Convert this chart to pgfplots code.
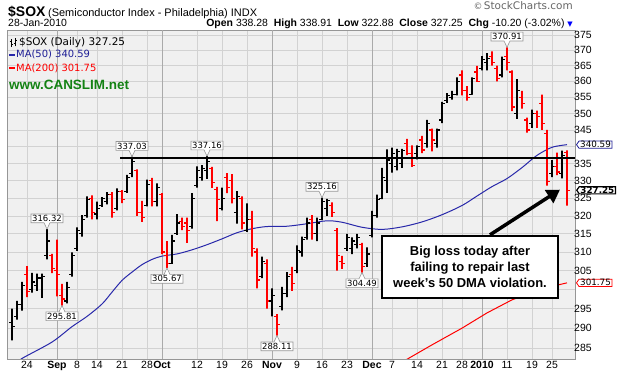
\documentclass[border=0pt]{standalone}
\usepackage{fontspec}
\setmainfont{Liberation Sans}
\newfontfamily\dejavu{DejaVu Sans}
\usepackage{pgfplots}
\usepackage{pgfplotstable}
\pgfplotsset{compat=1.18}
\usetikzlibrary{shapes.callouts,shapes.symbols,arrows.meta}

\definecolor{plotbg}{RGB}{240,240,240}
\definecolor{gridc}{RGB}{210,210,210}
\definecolor{monthc}{RGB}{170,170,170}
\definecolor{frame}{RGB}{150,150,150}
\definecolor{maBlue}{RGB}{40,40,170}
\definecolor{barred}{RGB}{255,0,0}
\definecolor{webgreen}{RGB}{20,130,20}
\definecolor{tagblue}{RGB}{30,30,150}
\definecolor{lblgray}{RGB}{150,150,150}

% OHLC bars: d = trading-day index (0 = 19-Aug-2009), r = 1 red bar, 0 black bar
\pgfplotstableread{
d O H L C r
0 291.5 295.0 286.9 290.5 0
1 293.0 297.0 292.2 296.0 0
2 296.0 302.0 294.5 301.0 0
3 304.0 306.2 298.0 299.5 1
4 300.0 304.4 299.2 302.0 0
5 301.0 304.2 299.6 303.0 0
6 303.0 304.2 297.8 303.5 0
7 309.0 316.32 308.0 313.0 0
8 309.0 309.5 304.3 305.5 1
9 305.0 313.4 298.2 304.0 1
10 298.5 301.5 295.81 297.5 1
11 297.0 302.0 296.4 300.5 0
12 304.0 309.9 303.4 309.0 0
13 311.0 316.8 310.3 316.0 0
14 315.0 320.2 314.2 319.0 0
15 320.0 325.5 319.5 324.5 0
16 325.0 325.8 319.0 321.0 1
17 320.5 324.0 319.0 322.0 0
18 323.0 325.3 322.5 325.0 0
19 324.0 326.7 323.2 326.0 0
20 326.0 326.7 319.5 321.0 1
21 322.0 327.8 321.5 327.0 0
22 327.0 327.3 323.6 324.5 1
23 327.0 331.7 326.5 331.0 0
24 332.0 337.03 331.0 335.5 0
25 333.0 333.3 320.0 321.0 1
26 321.0 324.2 318.3 319.5 1
27 323.0 330.3 322.7 329.0 0
28 330.0 330.8 322.7 324.0 1
29 324.0 329.2 322.7 328.0 0
30 326.0 326.4 309.4 310.0 1
31 309.0 313.0 305.67 307.0 1
32 307.0 314.7 306.8 313.0 0
33 315.0 320.5 314.7 318.0 0
34 318.5 319.5 316.0 317.0 1
35 318.0 319.5 312.5 316.0 1
36 317.0 326.4 316.4 325.0 0
37 328.5 334.2 328.0 333.0 0
38 331.0 334.5 330.0 333.5 0
39 333.0 337.16 330.5 335.5 0
40 333.5 334.0 327.9 329.5 1
41 327.5 328.2 318.5 324.5 1
42 322.0 328.0 321.5 325.0 0
43 331.0 332.2 326.4 328.0 1
44 330.0 331.9 323.5 325.0 1
45 321.0 327.0 317.8 325.5 0
46 325.0 325.5 316.2 318.0 1
47 316.0 323.5 315.5 319.0 0
48 319.0 321.4 308.8 311.0 1
49 310.0 311.0 300.3 302.5 1
50 303.5 308.8 303.0 307.5 0
51 307.0 308.0 295.0 297.0 1
52 297.0 300.3 293.0 298.5 0
53 293.0 293.6 288.11 291.0 1
54 295.5 300.7 294.6 299.0 0
55 299.0 304.6 298.0 303.5 0
56 304.0 306.0 299.6 301.5 1
57 305.0 311.8 304.3 310.5 0
58 310.0 314.2 308.8 313.5 0
59 314.0 319.5 313.4 318.0 0
60 319.0 320.2 313.4 315.0 1
61 315.0 319.5 313.0 318.0 0
62 319.0 325.16 318.8 324.0 0
63 322.0 324.8 320.0 324.3 0
64 323.0 323.8 319.7 321.0 1
65 316.0 316.6 305.0 309.0 1
66 307.5 309.0 305.5 307.0 1
67 311.0 315.0 310.3 314.0 0
68 311.0 314.0 309.4 313.0 0
69 312.0 315.0 311.0 314.0 0
70 312.0 312.5 304.49 306.0 1
71 307.0 311.3 306.0 309.5 0
72 314.5 321.4 314.0 320.0 0
73 320.0 326.0 319.5 324.5 0
74 325.0 333.7 324.7 331.0 0
75 330.0 339.2 326.5 336.0 0
76 335.0 339.7 332.3 338.0 0
77 334.0 339.3 333.0 338.5 0
78 335.0 339.3 333.7 338.8 0
79 341.0 342.3 337.5 338.0 1
80 338.0 340.4 334.0 334.5 1
81 338.0 340.4 336.2 340.0 0
82 342.0 343.2 338.1 339.0 1
83 341.0 348.1 339.7 347.0 0
84 345.0 345.4 338.6 342.0 1
85 341.0 345.4 339.7 345.0 0
86 348.0 353.6 347.1 353.0 0
87 354.0 356.3 353.3 355.5 0
88 355.0 357.0 354.3 356.0 0
89 356.0 361.3 355.6 360.0 0
90 362.0 363.5 355.6 357.0 1
91 357.0 358.5 354.0 355.0 1
92 356.0 361.3 355.8 361.0 0
93 363.0 364.9 359.8 360.0 1
94 364.0 368.0 363.5 367.0 0
95 366.0 369.0 363.5 367.2 0
96 368.0 369.6 365.0 366.0 1
97 364.0 365.0 360.0 361.0 1
98 362.0 367.9 361.3 367.0 0
99 368.0 370.91 363.5 366.0 1
100 363.0 363.5 350.7 352.0 1
101 350.0 360.7 348.4 357.0 0
102 355.0 357.0 351.5 353.0 1
103 348.0 348.7 344.2 345.0 1
104 347.0 351.2 345.6 350.0 0
105 350.0 350.9 345.6 349.0 1
106 353.0 355.8 345.0 347.0 1
107 344.0 345.0 328.6 329.8 1
108 332.0 336.0 331.0 334.0 0
109 334.0 338.2 331.6 332.5 1
110 332.0 338.8 330.7 337.45 0
111 338.28 338.91 322.88 327.25 1
}\ohlc

\pgfplotstableread{
d v
0 280.5
2 282.4
8 286.5
12 290.4
15 293.0
18 296.2
20 299.3
22 302.4
24 304.6
26 306.6
28 308.0
30 308.9
33 309.5
36 310.6
39 312.0
42 313.6
45 315.3
48 316.4
51 317.0
55 317.1
59 317.8
63 318.6
66 318.2
70 316.8
74 316.2
78 316.9
82 318.3
86 320.3
90 322.9
93 325.6
96 328.3
99 330.6
102 333.8
105 337.4
108 339.8
111 340.59
}\mafifty

\pgfplotstableread{
d v
78 281.5
84 285.8
90 290.0
95 293.9
100 297.3
106 300.2
111 301.75
}\matwohundred

\tikzset{
  hl/.style={draw=lblgray, line width=0.6bp, fill=white, inner sep=1.2bp, rectangle callout,
    callout pointer width=6bp, font=\dejavu\fontsize{8.5}{9}\selectfont},
  tag/.style={signal, signal to=west, signal pointer angle=110, fill=white,
    inner xsep=1.2bp, inner ysep=0.5bp, text height=6.2bp, text depth=0bp,
    anchor=west, font=\dejavu\fontsize{8.8}{9.5}\selectfont}
}

\begin{document}
\begin{tikzpicture}
\path[use as bounding box, fill=white] (-7bp,-17bp) rectangle (616bp,359bp);
\begin{axis}[
  at={(0,0)}, anchor=south west,
  scale only axis, width=568bp, height=329bp,
  xmin=-1, xmax=112.6,
  ymode=log, ymin=282.3, ymax=376.6,
  axis background/.style={fill=plotbg},
  axis line style={draw=frame, line width=0.8bp},
  clip mode=individual,
  xtick={3,13,17,22,27,37,42,47,57,62,67,76,81,86,90,99,104,108},
  xticklabels={24,8,14,21,28,12,19,26,9,16,23,7,14,21,28,11,19,25},
  extra x ticks={9,30,52,72,94},
  extra x tick labels={\textbf{Sep},\textbf{Oct},\textbf{Nov},\textbf{Dec},\textbf{2010}},
  extra x tick style={grid style={monthc, line width=0.8bp}},
  ytick={285,290,295,300,305,310,315,320,325,330,335,340,345,350,355,360,365,370,375},
  yticklabels={285,290,295,,305,310,315,320,325,330,335,,345,350,355,360,365,370,375},
  yticklabel pos=right,
  yticklabel style={anchor=west, xshift=-1bp, inner sep=0bp},
  xticklabel style={yshift=1bp},
  grid=major, grid style={gridc, line width=0.6bp},
  major tick length=0pt,
  ticklabel style={font=\fontsize{10.5}{12}\selectfont},
]
\addplot[maBlue, line width=1bp, smooth, forget plot] table[x=d, y=v] {\mafifty};
\addplot[barred, line width=1bp, forget plot] table[x=d, y=v] {\matwohundred};

\pgfplotsinvokeforeach{0,...,111}{%
  \pgfplotstablegetelem{#1}{d}\of\ohlc\edef\bd{\pgfplotsretval}%
  \pgfplotstablegetelem{#1}{O}\of\ohlc\edef\bo{\pgfplotsretval}%
  \pgfplotstablegetelem{#1}{H}\of\ohlc\edef\bh{\pgfplotsretval}%
  \pgfplotstablegetelem{#1}{L}\of\ohlc\edef\bl{\pgfplotsretval}%
  \pgfplotstablegetelem{#1}{C}\of\ohlc\edef\bcl{\pgfplotsretval}%
  \pgfplotstablegetelem{#1}{r}\of\ohlc\edef\br{\pgfplotsretval}%
  \pgfmathsetmacro{\bdl}{\bd-0.6}%
  \pgfmathsetmacro{\bdr}{\bd+0.6}%
  \ifnum\br=1 \def\bcol{barred}\else\def\bcol{black}\fi
  \edef\doplot{\noexpand\addplot[\bcol, line width=1.2bp, line join=bevel, line cap=butt, forget plot] coordinates {(\bdl,\bo) (\bd,\bo) (\bd,\bh) (\bd,\bl) (\bd,\bcl) (\bdr,\bcl)};}%
  \doplot
}

% resistance line
\addplot[black, line width=2bp, forget plot] coordinates {(21.6,336.6) (112.6,336.6)};

% high / low labels
\node[hl, anchor=south, callout absolute pointer={(axis cs:7,316.32)}] at ([yshift=6bp]axis cs:7,316.32) {316.32};
\node[hl, anchor=south, callout absolute pointer={(axis cs:24,337.03)}] at ([yshift=6bp]axis cs:24,337.03) {337.03};
\node[hl, anchor=south, callout absolute pointer={(axis cs:39,337.16)}] at ([yshift=6bp]axis cs:39,337.16) {337.16};
\node[hl, anchor=south, callout absolute pointer={(axis cs:62,325.16)}] at ([yshift=6bp]axis cs:62,325.16) {325.16};
\node[hl, anchor=south, callout absolute pointer={(axis cs:99,370.91)}] at ([yshift=6bp]axis cs:99,370.91) {370.91};
\node[hl, anchor=north, callout absolute pointer={(axis cs:10,295.81)}] at ([yshift=-6bp]axis cs:10,295.81) {295.81};
\node[hl, anchor=north, callout absolute pointer={(axis cs:31,305.67)}] at ([yshift=-6bp]axis cs:31,305.67) {305.67};
\node[hl, anchor=north, callout absolute pointer={(axis cs:53,288.11)}] at ([yshift=-6bp]axis cs:53,288.11) {288.11};
\node[hl, anchor=north, callout absolute pointer={(axis cs:70,304.49)}] at ([yshift=-6bp]axis cs:70,304.49) {304.49};

% right-hand value tags
\node[tag, draw=tagblue, line width=0.8bp] at ([xshift=1bp]axis cs:112.6,340.59) {340.59};
\node[tag, draw=black, line width=1.2bp, font=\dejavu\bfseries\fontsize{8.8}{9.5}\selectfont] at ([xshift=1bp]axis cs:112.6,327.25) {327.25};
\node[tag, draw=barred, line width=0.8bp] at ([xshift=1bp]axis cs:112.6,301.75) {301.75};

% annotation
\draw[line width=3.5bp, -{Triangle[length=13bp,width=15bp]}] (axis cs:95.6,314.7) -- (axis cs:109.6,327.4);
\node[draw=black, line width=2bp, fill=white, align=center,
  font=\bfseries\fontsize{13}{16.5}\selectfont, minimum width=176bp, minimum height=62bp]
  at (axis cs:91.6,306.0) {Big loss today after\\failing to repair last\\week's 50 DMA violation.};

% in-chart legend
\draw[line width=0.8bp] ([xshift=4bp]rel axis cs:0,0.948) -- ([xshift=4bp]rel axis cs:0,0.972)
  ([xshift=2.5bp]rel axis cs:0,0.966) -- ([xshift=4bp]rel axis cs:0,0.966)
  ([xshift=4bp]rel axis cs:0,0.955) -- ([xshift=5.5bp]rel axis cs:0,0.955)
  ([xshift=8bp]rel axis cs:0,0.950) -- ([xshift=8bp]rel axis cs:0,0.974)
  ([xshift=6.5bp]rel axis cs:0,0.960) -- ([xshift=8bp]rel axis cs:0,0.960)
  ([xshift=8bp]rel axis cs:0,0.968) -- ([xshift=9.5bp]rel axis cs:0,0.968);
\node[anchor=base west, inner sep=0, font=\dejavu\fontsize{10.5}{12}\selectfont] at ([xshift=12bp]rel axis cs:0,0.954) {\$SOX (Daily) 327.25};
\draw[maBlue, line width=2bp] ([xshift=2bp]rel axis cs:0,0.924) -- ([xshift=8bp]rel axis cs:0,0.924);
\node[anchor=base west, inner sep=0, text=tagblue, font=\dejavu\fontsize{10}{12}\selectfont] at ([xshift=9bp]rel axis cs:0,0.915) {MA(50) 340.59};
\draw[barred, line width=2bp] ([xshift=2bp]rel axis cs:0,0.884) -- ([xshift=8bp]rel axis cs:0,0.884);
\node[anchor=base west, inner sep=0, text=barred, font=\dejavu\fontsize{10}{12}\selectfont] at ([xshift=9bp]rel axis cs:0,0.875) {MA(200) 301.75};
\node[anchor=base west, inner sep=0, text=webgreen, font=\bfseries\fontsize{13.5}{15}\selectfont] at ([xshift=2bp]rel axis cs:0,0.818) {www.CANSLIM.net};

% header
\node[anchor=base west, inner sep=0] at ([xshift=1bp]rel axis cs:0,1.0395)
  {{\bfseries\fontsize{14}{16}\selectfont \$SOX} {\fontsize{11}{13}\selectfont (Semiconductor Index - Philadelphia) INDX}};
\node[anchor=base west, inner sep=0, font=\fontsize{10.5}{12}\selectfont] at ([xshift=1bp]rel axis cs:0,1.009) {28-Jan-2010};
\node[anchor=base east, inner sep=0, font=\fontsize{10.5}{12}\selectfont] at ([xshift=-2bp]rel axis cs:1,1.009)
  {\textbf{Open} 338.28 \ \textbf{High} 338.91 \ \textbf{Low} 322.88 \ \textbf{Close} 327.25 \ \textbf{Chg} -10.20 (-3.02\%) \textcolor{blue}{\dejavu\fontsize{7}{8}\selectfont ▼}};
\node[anchor=base east, inner sep=0, text=gray!80!black, font=\fontsize{10.5}{12}\selectfont] at ([xshift=-2bp]rel axis cs:1,1.0608) {\dejavu\fontsize{9}{10}\selectfont ©\,\fontsize{10.5}{12}\selectfont StockCharts.com};
\end{axis}
\end{tikzpicture}
\end{document}
